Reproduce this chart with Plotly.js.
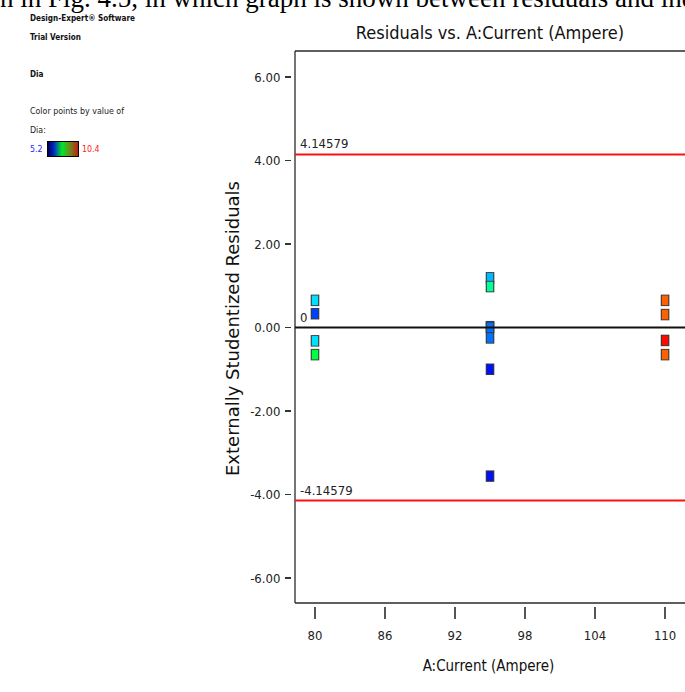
<!DOCTYPE html>
<html>
<head>
<meta charset="utf-8">
<script src="https://cdn.plot.ly/plotly-3.0.1.min.js"></script>
<style>
  html, body { margin: 0; padding: 0; background: #ffffff; }
  #chart { width: 685px; height: 692px; }
</style>
</head>
<body>
<div id="chart"></div>
<script>
// A:Current level (Ampere) of each run
const currentA = [80, 80, 80, 80, 95, 95, 95, 95, 95, 95, 95, 110, 110, 110, 110];
// Externally studentized residual of each run
const residuals = [0.65, 0.33, -0.32, -0.65, 1.19, 0.98, 0.02, 0.00, -0.25, -1.00, -3.56, 0.65, 0.31, -0.31, -0.65];
// Dia response of each run, used to colour the points
const dia = [6.34, 5.53, 6.34, 7.48, 6.14, 7.02, 5.77, 5.77, 5.77, 5.28, 5.28, 9.91, 9.91, 10.35, 9.91];
const diaRange = [5.2, 10.4];

// Outlier limits and the zero reference
const limits = [4.14579, -4.14579];
const limitLabels = ['4.14579', '-4.14579'];
const zeroLevel = 0;

const xTicks = [80, 86, 92, 98, 104, 110];
const yTicks = [-6, -4, -2, 0, 2, 4, 6];
const yTickText = ['-6.00', '-4.00', '-2.00', '0.00', '2.00', '4.00', '6.00'];

// Figure geometry (pixels); the paper covers the whole figure
const W = 685, H = 692;
const px = x => x / W;          // pixel column -> paper x
const py = y => 1 - y / H;      // pixel row -> paper y

const NARROW = 'Liberation Sans Narrow, DejaVu Sans Condensed, Arial Narrow, sans-serif';
const WIDE = 'DejaVu Sans, Verdana, sans-serif';

const pointScale = [[0, '#0000ff'], [0.25, '#00ffff'], [0.5, '#00ff00'], [0.75, '#ffff00'], [1, '#ff0000']];
const keyScale = [[0, '#00005a'], [0.18, '#0028c8'], [0.45, '#00e828'], [0.75, '#7a7a1a'], [1, '#c01a10']];

// Each run gets its own outlined, upright rectangular marker so that
// neighbouring points keep their borders where they touch.
const traces = [];
currentA.forEach((xv, i) => {
  traces.push({
    type: 'scatter', mode: 'markers', x: [xv], y: [residuals[i]],
    hoverinfo: 'skip', showlegend: false,
    marker: { symbol: 'line-ns', size: 8.2, line: { width: 8.6, color: '#3a3a3a' } }
  });
  traces.push({
    type: 'scatter', mode: 'markers', x: [xv], y: [residuals[i]],
    showlegend: false,
    marker: {
      symbol: 'line-ns', size: 6.9,
      line: { width: 6.4, color: [dia[i]], cmin: diaRange[0], cmax: diaRange[1], colorscale: pointScale }
    }
  });
});

// Colour key for Dia: a smooth two-cell heatmap spanning the Dia range
traces.push({
  type: 'heatmap', xaxis: 'x2', yaxis: 'y2',
  z: [diaRange], x: diaRange, y: [0],
  zmin: diaRange[0], zmax: diaRange[1], zsmooth: 'best',
  colorscale: keyScale, showscale: false, hoverinfo: 'skip'
});

const frame = { color: '#2a2a2a', width: 1.3 };
const lineShapes = [
  // frame
  { type: 'line', xref: 'paper', yref: 'paper', x0: px(295), x1: px(295), y0: py(603), y1: py(51), line: frame },
  { type: 'line', xref: 'paper', yref: 'paper', x0: px(295), x1: 1, y0: py(51), y1: py(51), line: frame },
  { type: 'line', xref: 'paper', yref: 'paper', x0: px(295), x1: 1, y0: py(603), y1: py(603), line: frame },
  // zero reference, drawn over the points
  { type: 'line', layer: 'above', xref: 'paper', yref: 'y', x0: px(295), x1: 1, y0: zeroLevel, y1: zeroLevel, line: { color: '#111111', width: 2 } }
];
limits.forEach(v => lineShapes.push({
  type: 'line', layer: 'above', xref: 'paper', yref: 'y', x0: px(295), x1: 1, y0: v, y1: v,
  line: { color: '#ff1010', width: 2 }
}));

const sideText = (text, x, y, opts = {}) => Object.assign({
  text, xref: 'paper', yref: 'paper', x: px(x), y: py(y), xanchor: 'left', yanchor: 'middle',
  showarrow: false, font: { family: NARROW, size: 8.8, color: '#222222' }
}, opts);
const boldFont = { family: NARROW, size: 8.1, color: '#111111' };

const annotations = [
  // running text line above the figure
  {
    text: 'n in Fig. 4.5, in which graph is shown between residuals and ind',
    xref: 'paper', yref: 'paper', x: px(-2), y: py(15), xanchor: 'left', yanchor: 'bottom',
    showarrow: false, font: { family: 'Liberation Serif, Times New Roman, serif', size: 27, color: '#000000' }
  },
  sideText('<b>Design-Expert® Software</b>', 28, 18, { font: boldFont }),
  sideText('<b>Trial Version</b>', 28, 37, { font: boldFont }),
  sideText('<b>Dia</b>', 28, 74, { font: boldFont }),
  sideText('Color points by value of', 28, 111),
  sideText('Dia:', 28, 130),
  sideText(String(diaRange[0]), 28, 149, { font: { family: NARROW, size: 8.8, color: '#2b2bff' } }),
  sideText(String(diaRange[1]), 80, 149, { font: { family: NARROW, size: 8.8, color: '#ff2020' } }),
  // reference line labels
  {
    text: '0', xref: 'paper', yref: 'y', x: px(298), y: zeroLevel, xanchor: 'left', yanchor: 'bottom',
    yshift: 1, showarrow: false, font: { family: NARROW, size: 13, color: '#222222' }
  }
];
limits.forEach((v, i) => annotations.push({
  text: limitLabels[i], xref: 'paper', yref: 'y', x: px(298), y: v, xanchor: 'left', yanchor: 'bottom',
  yshift: 1, showarrow: false, font: { family: NARROW, size: 13, color: '#222222' }
}));

const hiddenAxis = {
  showgrid: false, zeroline: false, showticklabels: false, ticks: '',
  showline: true, mirror: true, linecolor: '#000000', linewidth: 1, fixedrange: true
};

const layout = {
  width: W, height: H,
  margin: { l: 0, r: 0, t: 0, b: 0, autoexpand: false },
  paper_bgcolor: '#ffffff', plot_bgcolor: '#ffffff',
  showlegend: false,
  title: {
    text: 'Residuals vs. A:Current (Ampere)',
    font: { family: NARROW, size: 18, color: '#111111' },
    xref: 'container', x: 490 / W, xanchor: 'center',
    yref: 'container', y: 1 - 33 / H, yanchor: 'middle'
  },
  xaxis: {
    domain: [px(292), 1], anchor: 'y',
    range: [78.03, 111.71], tickvals: xTicks, ticks: 'outside', ticklen: 12, tickwidth: 1.3,
    tickcolor: '#555555', showline: false, showgrid: false, zeroline: false,
    tickfont: { family: NARROW, size: 13, color: '#222222' }, ticklabelstandoff: 5,
    automargin: false,
    title: { text: 'A:Current (Ampere)', font: { family: NARROW, size: 15, color: '#111111' }, standoff: 18 }
  },
  yaxis: {
    domain: [py(606), py(51)], anchor: 'x',
    range: [-6.671, 6.623], tickvals: yTicks, ticktext: yTickText, ticks: 'outside', ticklen: 6,
    tickwidth: 1.3, tickcolor: '#333333', showline: false, showgrid: false, zeroline: false,
    tickfont: { family: NARROW, size: 13, color: '#222222' }, ticklabelstandoff: 2,
    automargin: false,
    title: { text: 'Externally Studentized Residuals', font: { family: WIDE, size: 18, color: '#111111' }, standoff: 5 }
  },
  xaxis2: Object.assign({ domain: [px(48), px(78)], range: diaRange, anchor: 'y2' }, hiddenAxis),
  yaxis2: Object.assign({ domain: [py(156), py(142)], range: [-0.5, 0.5], anchor: 'x2' }, hiddenAxis),
  shapes: lineShapes,
  annotations: annotations
};

Plotly.newPlot('chart', traces, layout, { displayModeBar: false, staticPlot: true });
</script>
</body>
</html>
